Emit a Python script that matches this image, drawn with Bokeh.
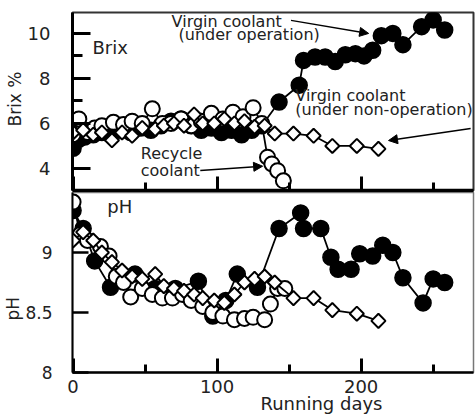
import numpy as np
from bokeh.plotting import figure
from bokeh.layouts import column
from bokeh.models import Range1d, FixedTicker, Label, Arrow, NormalHead, Title
from bokeh.embed import file_html
from bokeh.resources import INLINE

# ---------------- data ----------------
# Brix (%) panel
op_brix_days = [0, 4, 8, 14, 20, 26, 33, 40, 47, 54, 61, 68, 75, 82, 89, 96, 103, 110, 117, 124, 131,
                143, 157, 160, 168, 175, 182, 189, 196, 202, 208, 214, 222, 229, 242, 250, 258]
op_brix = [4.9, 5.3, 5.4, 5.5, 5.6, 5.5, 5.7, 5.6, 5.8, 5.7, 5.9, 6.1, 6.2, 5.9, 5.7, 5.8, 5.6, 5.7, 5.5, 5.7, 5.9,
           6.95, 7.7, 8.8, 8.95, 8.95, 8.75, 9.05, 9.1, 9.0, 9.25, 9.9, 10.0, 9.5, 10.3, 10.6, 10.15]

rec_brix_days = [0, 4, 10, 15, 20, 28, 35, 41, 48, 55, 62, 68, 75, 82, 89, 96, 104, 111, 118, 125, 131,
                 135, 138, 142, 146]
rec_brix = [5.5, 6.2, 5.6, 5.8, 5.9, 6.05, 5.95, 6.1, 6.0, 6.65, 6.0, 6.0, 6.2, 5.9, 6.1, 6.45, 6.2, 6.5, 6.3, 6.7, 6.0,
            4.5, 4.2, 3.9, 3.45]

non_days = [0, 7, 14, 20, 27, 34, 41, 48, 57, 63, 70, 77, 84, 90, 98, 105, 112, 119, 126, 133, 140,
            153, 167, 180, 197, 212]
non_brix = [5.6, 5.7, 5.5, 5.6, 5.25, 5.6, 5.45, 5.8, 5.75, 5.9, 6.0, 5.9, 6.4, 6.0, 6.0, 6.2, 6.0, 6.1, 5.85, 5.9, 5.55,
            5.55, 5.45, 5.0, 5.0, 4.87]

# pH panel
op_ph_days = [0, 7, 15, 26, 35, 43, 57, 64, 71, 87, 97, 106, 114, 128, 143, 158, 160, 172, 179, 184, 193,
              199, 208, 215, 222, 229, 243, 250, 258]
op_ph = [9.35, 9.2, 8.93, 8.71, 8.78, 8.82, 8.7, 8.68, 8.7, 8.76, 8.47, 8.6, 8.82, 8.71, 9.2, 9.33, 9.2, 9.2, 8.96,
         8.86, 8.86, 8.99, 8.97, 9.06, 9.0, 8.79, 8.58, 8.78, 8.75]

rec_ph_days = [0, 5, 10, 19, 25, 30, 35, 40, 48, 55, 62, 69, 76, 82, 90, 97, 104, 112, 119, 125, 133, 137, 142, 147]
rec_ph = [9.42, 9.15, 9.1, 9.05, 8.97, 8.8, 8.75, 8.63, 8.7, 8.65, 8.62, 8.62, 8.65, 8.6, 8.55, 8.5, 8.47, 8.44,
          8.45, 8.46, 8.44, 8.57, 8.7, 8.7]

non_ph = [9.1, 9.17, 9.1, 9.0, 8.92, 8.85, 8.8, 8.78, 8.82, 8.72, 8.7, 8.68, 8.65, 8.62, 8.6, 8.58, 8.65, 8.75,
          8.78, 8.8, 8.75, 8.62, 8.62, 8.52, 8.49, 8.43]

brix_ticks = [4, 6, 8, 10]
brix_minor = [5, 7, 9]
ph_ticks = [8, 8.5, 9]
ph_tick_labels = ["8", "8.5", "9"]
day_ticks = [0, 100, 200]
day_minor = [50, 150, 250]

FONT = "DejaVu Sans"
TXT = "#222222"

x_rng = Range1d(-0.4, 278)


def style_axes(p):
    p.grid.visible = False
    for ax in p.axis:
        ax.major_tick_out = 0
        ax.minor_tick_out = 0
        ax.major_label_text_font = FONT
        ax.major_label_text_color = TXT
        ax.major_label_text_font_size = "17px"
        ax.axis_line_color = "black"
        ax.major_tick_line_color = "black"
        ax.minor_tick_line_color = "black"


def draw_series(p, op_d, op_v, rec_d, rec_v, non_d, non_v):
    p.line(op_d, op_v, line_width=1.8, line_color="black")
    p.scatter(op_d, op_v, marker="circle", size=16, fill_color="black", line_color="black", line_width=1.5)
    p.line(rec_d, rec_v, line_width=1.8, line_color="black")
    p.scatter(rec_d, rec_v, marker="circle", size=15, fill_color="white", line_color="black", line_width=2)
    p.line(non_d, non_v, line_width=1.8, line_color="black")
    p.scatter(non_d, non_v, marker="square", angle=np.pi / 4, size=10, fill_color="white",
              line_color="black", line_width=2)


def lab(p, x, y, text, size="16px", **kw):
    p.add_layout(Label(x=x, y=y, text=text, text_font=FONT, text_font_size=size,
                       text_color=TXT, **kw))


def side_title(text, size, **kw):
    return Title(text=text, text_font=FONT, text_font_size=size, text_color=TXT,
                 text_font_style="normal", **kw)


# ---------------- top panel (Brix) ----------------
p1 = figure(width=475, height=192, x_range=x_rng, y_range=Range1d(3.02, 10.93),
            output_backend="svg", toolbar_location=None,
            min_border_left=68, min_border_right=2, min_border_top=12, min_border_bottom=2)
style_axes(p1)
p1.outline_line_color = "#333333"
p1.outline_line_width = 2

ya = p1.yaxis[0]
ya.ticker = FixedTicker(ticks=brix_ticks, minor_ticks=brix_minor)
ya.major_tick_in = 18
ya.minor_tick_in = 10
ya.axis_line_width = 3
ya.major_tick_line_width = 3
ya.minor_tick_line_width = 3
ya.major_label_standoff = 22
ya.major_label_text_font_size = "18px"

xa = p1.xaxis[0]
xa.ticker = FixedTicker(ticks=day_ticks, minor_ticks=day_minor)
xa.major_tick_in = 14
xa.minor_tick_in = 8
xa.axis_line_width = 3.5
xa.major_tick_line_width = 3
xa.minor_tick_line_width = 3
xa.major_label_text_color = None
xa.major_label_standoff = 0

p1.add_layout(side_title("Brix %", "17px", align="left", offset=64, standoff=0), "left")

draw_series(p1, op_brix_days, op_brix, rec_brix_days, rec_brix, non_days, non_brix)

lab(p1, 13.4, 8.93, "Brix", size="18px")
lab(p1, 68.4, 10.1, "Virgin coolant")
lab(p1, 73.2, 9.54, "(under operation)")
lab(p1, 154.3, 6.8, "Virgin coolant")
lab(p1, 154.3, 6.18, "(under non-operation)")
lab(p1, 47.0, 4.22, "Recycle")
lab(p1, 47.0, 3.47, "coolant")

head = dict(size=9, fill_color="black", line_color="black")
p1.add_layout(Arrow(end=NormalHead(**head), x_start=151.3, y_start=10.58, x_end=205.2, y_end=10.0,
                    line_width=1.5, line_color="black"))
p1.add_layout(Arrow(end=NormalHead(**head), x_start=276, y_start=5.78, x_end=219, y_end=5.24,
                    line_width=1.5, line_color="black"))
p1.add_layout(Arrow(end=NormalHead(**head), x_start=88.3, y_start=3.91, x_end=131.6, y_end=4.1,
                    line_width=1.5, line_color="black"))

# ---------------- bottom panel (pH) ----------------
p2 = figure(width=475, height=222, x_range=x_rng, y_range=Range1d(8.0, 9.5),
            output_backend="svg", toolbar_location=None,
            min_border_left=68, min_border_right=2, min_border_top=0, min_border_bottom=42)
style_axes(p2)
p2.outline_line_color = "#777777"
p2.outline_line_width = 1.5

ya2 = p2.yaxis[0]
ya2.ticker = FixedTicker(ticks=ph_ticks)
ya2.major_label_overrides = {t: s for t, s in zip(ph_ticks, ph_tick_labels)}
ya2.major_tick_in = 16
ya2.minor_tick_line_color = None
ya2.axis_line_width = 2
ya2.major_tick_line_width = 2.5
ya2.major_label_standoff = 20

xa2 = p2.xaxis[0]
xa2.ticker = FixedTicker(ticks=day_ticks, minor_ticks=day_minor)
xa2.major_tick_in = 14
xa2.minor_tick_in = 8
xa2.axis_line_width = 2.5
xa2.major_tick_line_width = 3
xa2.minor_tick_line_width = 3
xa2.major_label_standoff = 7
xa2.major_label_text_font_size = "18px"

p2.add_layout(side_title("Running days", "18px", align="left", offset=188, standoff=-6,
                         vertical_align="top"), "below")
p2.add_layout(side_title("pH", "17px", align="left", offset=52, standoff=0), "left")

draw_series(p2, op_ph_days, op_ph, rec_ph_days, rec_ph, non_days, non_ph)

lab(p2, 23.7, 9.3, "pH", size="18px")

layout = column(p1, p2)
open("out.html", "w").write(file_html(layout, INLINE))
